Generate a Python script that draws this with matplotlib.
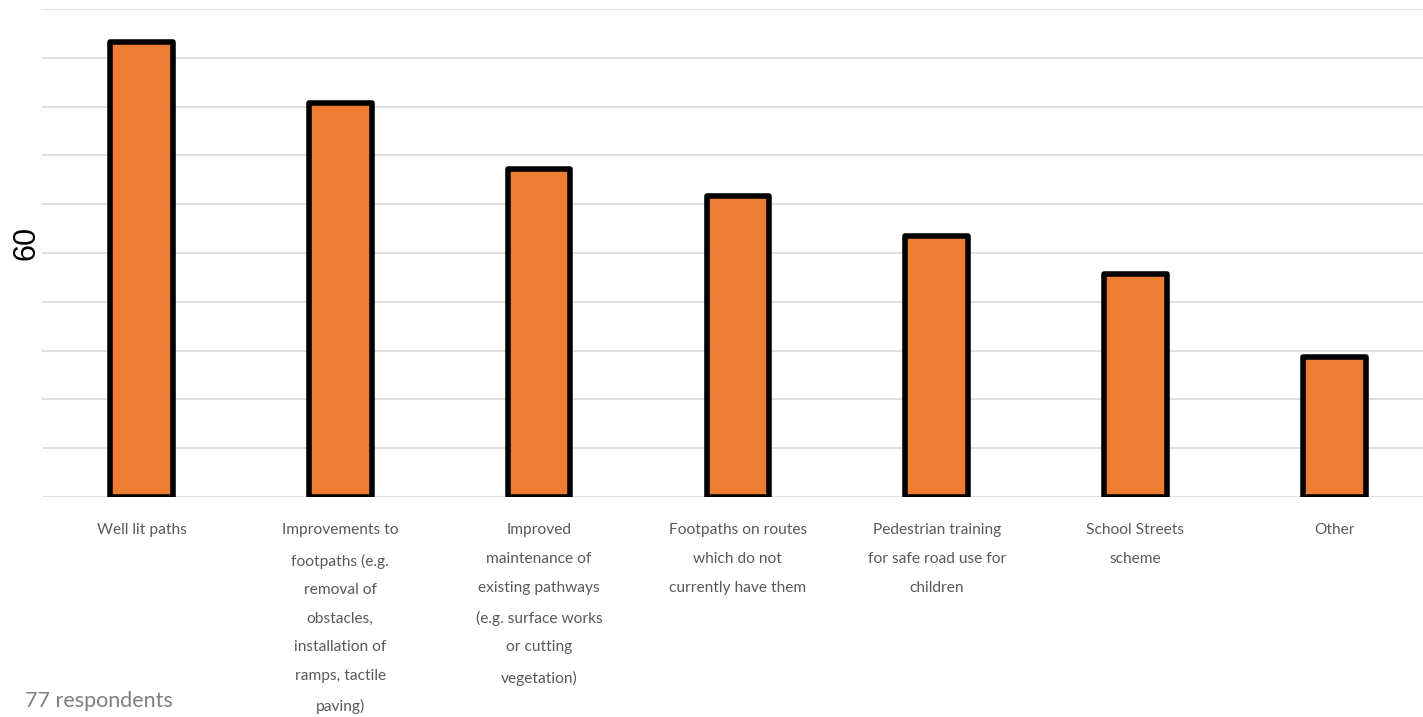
import matplotlib.pyplot as plt
import numpy as np

# dados
categorias = [
    "Well lit paths",
    "Improvements to\nfootpaths (e.g.\nremoval of\nobstacles,\ninstallation of\nramps, tactile\npaving)",
    "Improved\nmaintenance of\nexisting pathways\n(e.g. surface works\nor cutting\nvegetation)",
    "Footpaths on routes\nwhich do not\ncurrently have them",
    "Pedestrian training\nfor safe road use for\nchildren",
    "School Streets\nscheme",
    "Other",
]
valores = [46.6, 40.4, 33.6, 30.8, 26.7, 22.9, 14.3]
marcas_y = [0, 5, 10, 15, 20, 25, 30, 35, 40, 45, 50]

fig = plt.figure(figsize=(14.23, 7.17), dpi=100)
ax = fig.add_axes([0.0295, 0.3068, 0.978, 0.6806])

x = np.arange(len(categorias))
ax.bar(x, valores, width=0.315, color='#ED7D31', edgecolor='black',
       linewidth=4.0, joinstyle='round', zorder=3)

ax.set_xlim(-0.5, len(categorias) - 0.5)
ax.set_ylim(0, 50)
ax.set_yticks(marcas_y)
ax.set_yticklabels([])
ax.yaxis.grid(True, color='#D9D9D9', linewidth=1.2, zorder=0)
ax.tick_params(axis='both', length=0)
for s in ax.spines.values():
    s.set_visible(False)

ax.set_xticks(x)
ax.set_xticklabels(categorias, fontsize=11.2, color='#595959',
                   family='Lato', linespacing=2.33, va='top')
ax.tick_params(axis='x', pad=19)

# título do eixo y
fig.text(26 / 1423, 1 - 243 / 717, '60', fontsize=22, family='Liberation Sans',
         rotation=90, ha='center', va='center')

fig.text(0.0176, 0.009, '77 respondents', fontsize=15.5, color='#7F7F7F',
         family='Lato', va='bottom', ha='left')

fig.savefig('out.png', dpi=100)
